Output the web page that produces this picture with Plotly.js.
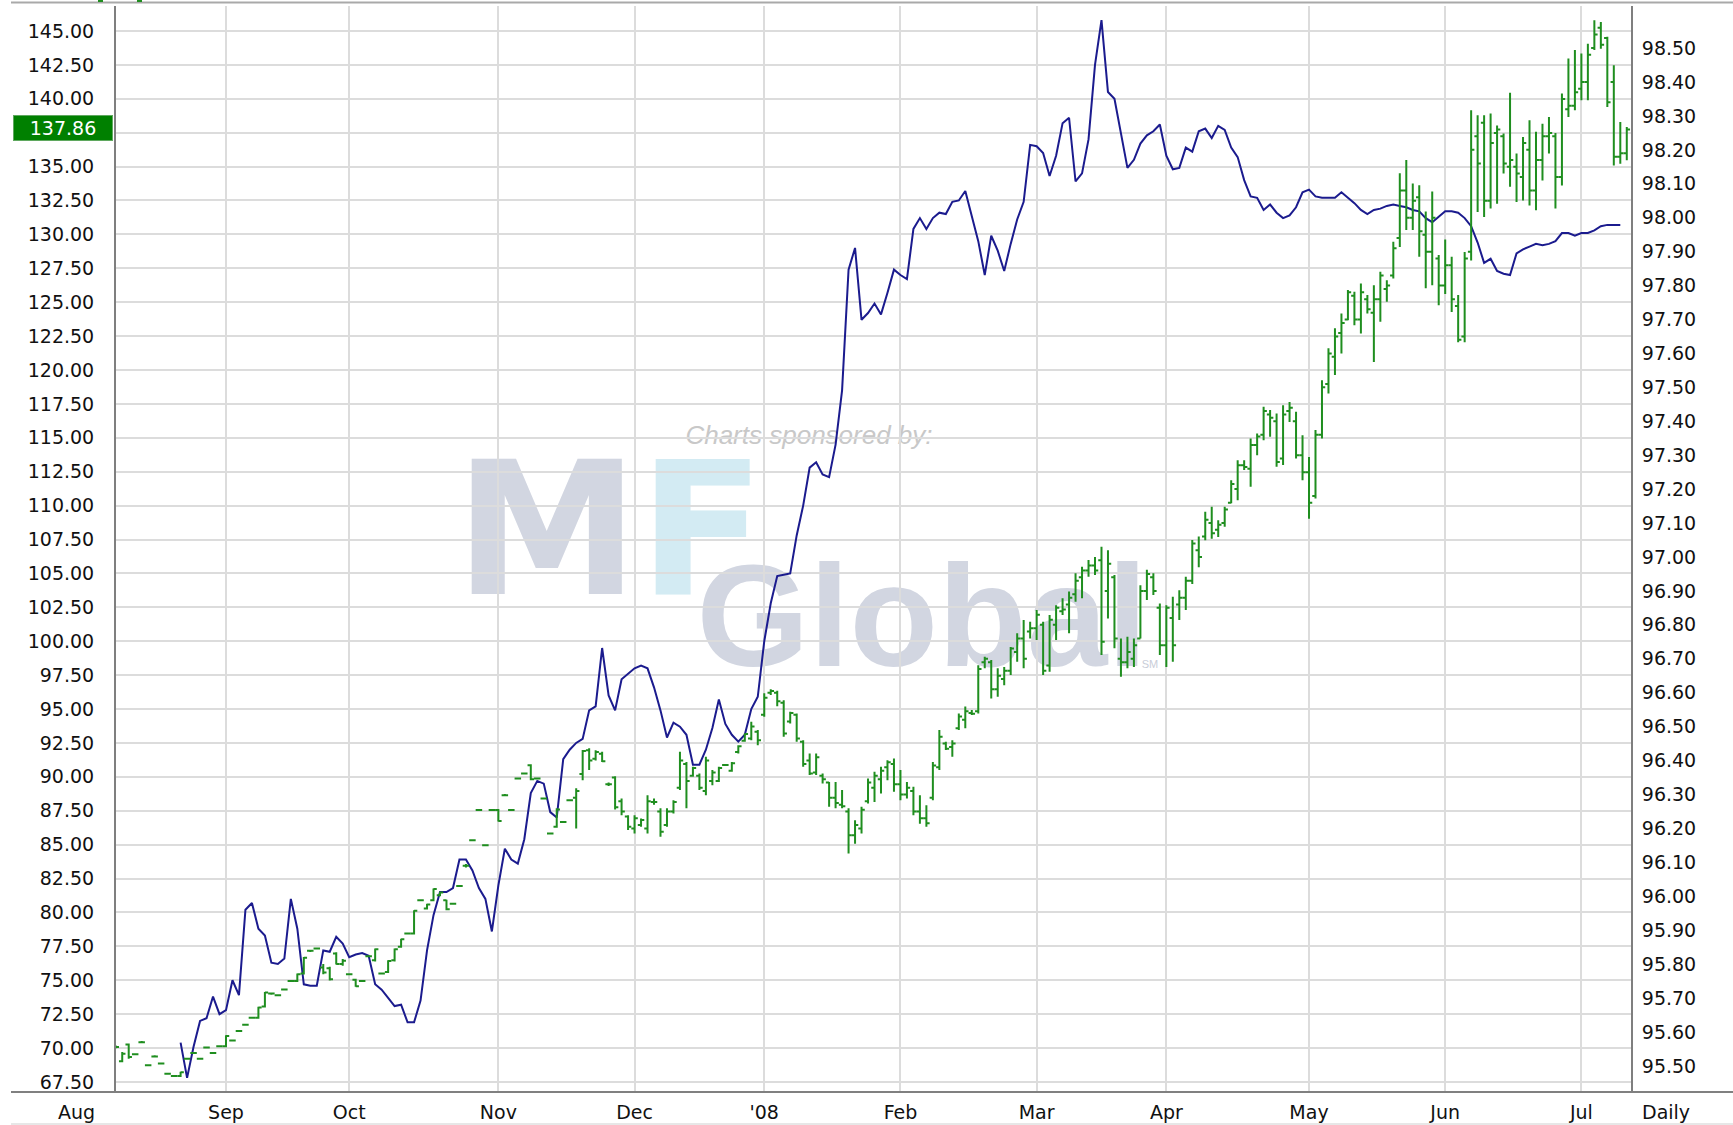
<!DOCTYPE html>
<html><head><meta charset="utf-8">
<script src="https://cdn.plot.ly/plotly-3.0.1.min.js"></script>
<style>html,body{margin:0;padding:0;background:#fff;overflow:hidden}#chart{width:1733px;height:1125px}</style>
</head><body><div id="chart"></div>
<script>
// ---------- calendar (trading days shown on the chart) ----------
const holidays = ['2007-09-03','2007-11-22','2007-12-25','2008-01-01','2008-01-21','2008-03-21','2008-05-26','2008-07-04'];
function tradingDays(start, end) {
  const out = []; const d = new Date(start + 'T00:00:00Z'); const e = new Date(end + 'T00:00:00Z');
  while (d <= e) {
    const dow = d.getUTCDay(); const s = d.toISOString().slice(0, 10);
    if (dow !== 0 && dow !== 6 && holidays.indexOf(s) < 0) out.push(s);
    d.setUTCDate(d.getUTCDate() + 1);
  }
  return out;
}
const days = tradingDays('2007-08-01', '2008-07-15');

// ---------- tick labels ----------
const monthStarts = ['2007-09-04','2007-10-01','2007-11-01','2007-12-03','2008-01-02','2008-02-01','2008-03-03','2008-04-01','2008-05-01','2008-06-02','2008-07-01'];
const monthLabels = ['Sep','Oct','Nov','Dec',"'08",'Feb','Mar','Apr','May','Jun','Jul'];
const leftTicks = [67.5,70,72.5,75,77.5,80,82.5,85,87.5,90,92.5,95,97.5,100,102.5,105,107.5,110,112.5,115,117.5,120,122.5,125,127.5,130,132.5,135,137.5,140,142.5,145];
const leftTickText = ['67.50','70.00','72.50','75.00','77.50','80.00','82.50','85.00','87.50','90.00','92.50','95.00','97.50','100.00','102.50','105.00','107.50','110.00','112.50','115.00','117.50','120.00','122.50','125.00','127.50','130.00','132.50','135.00','','140.00','142.50','145.00'];
const rightTicks = [95.5,95.6,95.7,95.8,95.9,96.0,96.1,96.2,96.3,96.4,96.5,96.6,96.7,96.8,96.9,97.0,97.1,97.2,97.3,97.4,97.5,97.6,97.7,97.8,97.9,98.0,98.1,98.2,98.3,98.4,98.5];
const lastPriceLabel = '137.86';
const lastPriceLevel = 137.86;

// ---------- blue line (daily close, left axis) ----------
const blueStart = '2007-08-23';
const blueClose = [
70.4,67.8,70.1,72.0,72.2,73.8,72.5,
72.8,75.0,73.9,80.2,80.7,78.8,78.3,76.3,76.2,76.6,81.0,78.8,74.7,74.6,74.6,77.2,77.1,78.2,77.7,
76.7,76.9,77.0,76.8,74.7,74.3,73.7,73.1,73.2,71.9,71.9,73.5,77.2,79.8,81.5,81.5,81.8,83.9,83.9,83.1,81.8,81.0,78.6,
82.0,84.7,83.9,83.6,85.4,88.8,89.7,89.5,87.4,87.0,91.3,92.0,92.5,92.8,94.9,95.2,99.5,96.0,94.9,97.2,97.6,
98.0,98.2,98.0,96.6,94.9,92.9,94.0,93.7,93.1,90.9,90.9,92.0,93.6,95.7,93.9,93.1,92.6,93.1,95.0,95.9,
100.0,102.8,104.8,104.9,105.0,107.8,110.0,112.8,113.2,112.3,112.1,114.5,118.5,127.4,129.0,123.7,124.2,124.9,124.1,125.7,127.4,
127.0,126.7,130.4,131.2,130.4,131.2,131.6,131.5,132.4,132.5,133.2,131.4,129.5,127.0,129.9,128.8,127.3,129.3,131.1,132.4,136.6,
136.5,136.0,134.3,135.8,138.2,138.6,133.9,134.5,137.0,142.5,145.8,140.5,140.0,137.3,134.9,135.5,136.7,137.3,137.6,138.1,
135.8,134.8,134.9,136.4,136.1,137.6,137.8,137.1,138.0,137.7,136.4,135.7,134.0,132.8,132.7,131.8,132.2,131.6,131.2,131.4,132.0,133.1,
133.3,132.8,132.7,132.7,132.7,133.1,132.7,132.3,131.8,131.5,131.8,131.9,132.1,132.2,132.1,132.0,131.8,131.7,131.2,130.9,131.3,
131.7,131.7,131.6,131.2,130.6,129.4,127.9,128.2,127.3,127.1,127.0,128.6,128.9,129.1,129.3,129.2,129.3,129.5,130.1,130.1,129.9,
130.1,130.1,130.3,130.6,130.7,130.7,130.7
];

// ---------- green OHLC bars (right axis) ----------
const greenStart = '2007-08-09';
const greenOpen = [
95.556,95.514,95.563,95.534,95.570,95.502,95.528,95.507,95.477,95.470,95.470,95.521,95.538,95.521,95.554,95.538,95.558,
95.558,95.575,95.603,95.621,95.642,95.642,95.675,95.713,95.708,95.725,95.750,95.750,95.772,95.839,95.846,95.790,95.788,95.831,95.800,
95.770,95.754,95.750,95.823,95.811,95.772,95.777,95.811,95.851,95.890,95.890,95.988,95.964,95.988,96.003,95.988,95.978,96.030,96.090,96.165,96.254,96.150,96.254,
96.254,96.298,96.254,96.347,96.362,96.386,96.347,96.288,96.185,96.205,96.219,96.283,96.290,96.360,96.430,96.405,96.420,96.330,96.350,96.280,96.235,
96.200,96.210,96.200,96.278,96.250,96.210,96.250,96.320,96.390,96.355,96.355,96.310,96.340,96.340,96.387,96.370,96.425,96.458,96.465,96.485,
96.535,96.600,96.600,96.570,96.515,96.535,96.455,96.400,96.365,96.355,96.335,96.290,96.270,96.250,96.180,96.200,96.280,96.320,96.345,96.380,96.390,
96.330,96.300,96.310,96.250,96.230,96.290,96.380,96.450,96.440,96.495,96.520,96.540,96.545,96.690,96.690,96.610,96.640,96.665,96.720,96.760,96.780,
96.790,96.800,96.680,96.800,96.840,96.860,96.890,96.940,96.960,96.975,96.990,96.900,96.940,96.700,96.690,96.700,96.760,96.900,96.940,96.850,
96.740,96.820,96.860,96.880,96.930,97.020,97.060,97.100,97.080,97.100,97.160,97.200,97.270,97.260,97.330,97.360,97.420,97.400,97.290,97.430,97.400,97.300,
97.250,97.180,97.360,97.510,97.590,97.660,97.700,97.770,97.700,97.760,97.720,97.760,97.790,97.830,97.940,98.080,98.000,98.060,97.950,97.900,97.880,
97.800,97.860,97.740,97.650,97.900,98.240,98.280,98.050,98.250,98.240,98.150,98.150,98.120,98.200,98.080,98.170,98.240,98.240,98.120,98.320,98.330,
98.380,98.400,98.500,98.560,98.530,98.400,98.180,98.190
];
const greenHigh = [
95.560,95.541,95.566,95.537,95.573,95.505,95.531,95.510,95.480,95.473,95.483,95.524,95.541,95.524,95.557,95.541,95.561,
95.590,95.578,95.606,95.624,95.645,95.674,95.718,95.716,95.711,95.728,95.753,95.772,95.821,95.842,95.849,95.800,95.792,95.835,95.815,
95.773,95.757,95.753,95.826,95.846,95.775,95.811,95.846,95.875,95.893,95.959,95.991,95.978,96.023,96.013,95.990,95.981,96.033,96.095,96.168,96.257,96.153,96.257,
96.257,96.301,96.257,96.350,96.365,96.389,96.350,96.291,96.188,96.259,96.222,96.286,96.318,96.431,96.436,96.430,96.426,96.335,96.354,96.288,96.239,
96.239,96.229,96.298,96.288,96.259,96.259,96.283,96.426,96.396,96.382,96.362,96.411,96.372,96.382,96.390,96.396,96.445,96.480,96.514,96.490,
96.598,96.610,96.606,96.578,96.544,96.539,96.460,96.421,96.421,96.362,96.337,96.337,96.313,96.259,96.224,96.264,96.347,96.367,96.382,96.401,96.406,
96.372,96.337,96.323,96.298,96.268,96.396,96.490,96.455,96.460,96.539,96.559,96.549,96.681,96.706,96.696,96.672,96.676,96.735,96.775,96.814,96.809,
96.844,96.809,96.829,96.858,96.878,96.898,96.952,96.971,96.991,97.000,97.030,97.020,96.947,96.760,96.765,96.760,96.917,96.962,96.952,96.863,
96.858,96.883,96.902,96.942,97.050,97.060,97.133,97.148,97.108,97.148,97.226,97.285,97.285,97.349,97.364,97.443,97.433,97.423,97.447,97.457,97.428,97.359,
97.295,97.374,97.521,97.615,97.674,97.718,97.787,97.782,97.806,97.772,97.801,97.841,97.816,97.929,98.131,98.170,98.101,98.096,98.018,98.077,97.890,
97.936,97.885,97.772,97.899,98.317,98.302,98.302,98.307,98.272,98.248,98.368,98.189,98.238,98.287,98.253,98.277,98.297,98.250,98.366,98.469,98.494,
98.484,98.513,98.582,98.577,98.533,98.449,98.282,98.267
];
const greenLow = [
95.552,95.511,95.521,95.531,95.567,95.499,95.525,95.504,95.474,95.467,95.467,95.518,95.535,95.518,95.551,95.535,95.555,
95.555,95.572,95.600,95.618,95.639,95.639,95.672,95.710,95.705,95.722,95.747,95.747,95.769,95.836,95.843,95.770,95.752,95.799,95.795,
95.767,95.733,95.747,95.820,95.808,95.769,95.774,95.808,95.848,95.887,95.887,95.985,95.961,95.985,96.000,95.959,95.975,96.027,96.085,96.162,96.251,96.147,96.251,
96.220,96.295,96.251,96.344,96.359,96.342,96.344,96.285,96.182,96.202,96.216,96.280,96.200,96.342,96.372,96.400,96.396,96.325,96.256,96.239,96.195,
96.185,96.205,96.185,96.270,96.175,96.205,96.244,96.313,96.259,96.352,96.313,96.298,96.327,96.337,96.384,96.367,96.421,96.455,96.460,96.445,
96.529,96.593,96.560,96.470,96.509,96.455,96.382,96.357,96.357,96.332,96.264,96.259,96.259,96.126,96.155,96.185,96.273,96.278,96.303,96.342,96.308,
96.283,96.288,96.239,96.214,96.205,96.283,96.372,96.431,96.411,96.490,96.495,96.534,96.539,96.672,96.583,96.588,96.622,96.652,96.691,96.672,96.760,
96.755,96.652,96.662,96.755,96.829,96.775,96.868,96.878,96.942,96.947,96.711,96.819,96.731,96.647,96.672,96.676,96.760,96.873,96.888,96.711,
96.676,96.691,96.814,96.844,96.920,96.970,97.049,97.054,97.059,97.089,97.158,97.167,97.256,97.207,97.300,97.344,97.354,97.266,97.271,97.398,97.290,97.226,
97.113,97.172,97.349,97.482,97.536,97.600,97.698,97.683,97.659,97.718,97.575,97.693,97.752,97.821,97.914,97.964,97.964,97.885,97.792,97.801,97.742,
97.775,97.722,97.633,97.633,97.874,98.017,98.002,98.027,98.041,98.130,98.091,98.046,98.051,98.036,98.022,98.110,98.189,98.027,98.095,98.297,98.317,
98.346,98.346,98.494,98.498,98.326,98.154,98.159,98.169
];
const greenClose = [
95.556,95.536,95.526,95.534,95.570,95.502,95.528,95.507,95.477,95.470,95.481,95.521,95.538,95.521,95.554,95.538,95.558,
95.588,95.575,95.603,95.621,95.642,95.672,95.716,95.713,95.708,95.725,95.750,95.770,95.819,95.839,95.846,95.775,95.755,95.800,95.810,
95.770,95.735,95.750,95.823,95.844,95.772,95.809,95.844,95.873,95.890,95.957,95.988,95.976,96.021,96.011,95.962,95.978,96.030,96.090,96.165,96.254,96.150,96.254,
96.222,96.298,96.254,96.347,96.362,96.345,96.347,96.288,96.185,96.256,96.219,96.283,96.310,96.428,96.400,96.425,96.398,96.330,96.262,96.250,96.205,
96.230,96.225,96.280,96.278,96.190,96.250,96.278,96.400,96.340,96.378,96.320,96.400,96.365,96.378,96.387,96.392,96.442,96.478,96.500,96.460,
96.585,96.605,96.575,96.480,96.540,96.465,96.390,96.362,96.410,96.345,96.290,96.275,96.265,96.180,96.210,96.255,96.335,96.355,96.370,96.395,96.330,
96.300,96.320,96.250,96.230,96.215,96.385,96.470,96.435,96.450,96.530,96.545,96.538,96.670,96.700,96.610,96.650,96.665,96.730,96.760,96.700,96.790,
96.830,96.665,96.815,96.850,96.845,96.880,96.930,96.960,96.975,96.960,96.750,96.980,96.760,96.690,96.720,96.740,96.900,96.950,96.900,96.740,
96.850,96.740,96.880,96.930,97.040,97.000,97.110,97.070,97.095,97.140,97.215,97.270,97.265,97.330,97.355,97.430,97.410,97.280,97.420,97.440,97.300,97.250,
97.160,97.360,97.500,97.600,97.650,97.690,97.780,97.700,97.780,97.730,97.760,97.830,97.800,97.910,98.080,98.000,98.050,97.960,97.900,98.000,97.800,
97.860,97.760,97.640,97.880,98.200,98.160,98.050,98.220,98.260,98.160,98.170,98.130,98.220,98.080,98.170,98.240,98.250,98.120,98.350,98.330,98.370,
98.400,98.480,98.540,98.510,98.340,98.180,98.190,98.260
];

// ---------- build traces ----------
const b0 = days.indexOf(blueStart);
const blueX = blueClose.map((_, i) => b0 + i);
const g0 = days.indexOf(greenStart);
const greenX = greenOpen.map((_, i) => g0 + i);
const blueDates = blueX.map(i => days[i]);
const greenDates = greenX.map(i => days[i]);

const GREEN = '#1f8e1f';
const BLUE = '#1b1b8e';
const FONT = 'DejaVu Sans, Verdana, sans-serif';

const traces = [
  { type: 'scatter', mode: 'lines', x: blueX, y: blueClose, text: blueDates, hoverinfo: 'text+y',
    xaxis: 'x', yaxis: 'y', line: { color: BLUE, width: 2 }, showlegend: false },
  { type: 'ohlc', x: greenX, open: greenOpen, high: greenHigh, low: greenLow, close: greenClose,
    text: greenDates, hoverinfo: 'text', xaxis: 'x', yaxis: 'y2', tickwidth: 0.5, showlegend: false,
    increasing: { line: { color: GREEN, width: 2 } }, decreasing: { line: { color: GREEN, width: 2 } } }
];

// ---------- layout helpers (pixel -> paper) ----------
const W = 1733, H = 1125, ML = 116, MR = 102, MT = 6, MB = 33;
const PW = W - ML - MR, PH = H - MT - MB;
const px = x => (x - ML) / PW;
const py = y => (H - MB - y) / PH;

function wm(text, cx, cy, w, h, size, color, family) {
  return { type: 'rect', xref: 'paper', yref: 'paper', layer: 'below',
    x0: px(cx - w / 2), x1: px(cx + w / 2), y0: py(cy + h / 2), y1: py(cy - h / 2),
    line: { width: 0 }, fillcolor: 'rgba(0,0,0,0)',
    label: { text: text, textposition: 'middle center', font: { size: size, color: color, family: family } } };
}

const shapes = [
  wm('<b><span style="color:#d2d6e1">M</span><span style="color:#d3ebf3">F</span></b>', 610, 517, 300, 140, 185, '#d2d6e1', 'DejaVu Sans'),
  wm('<b>Global</b>', 922, 602, 440, 120, 145, '#d2d6e1', 'Liberation Sans'),
  wm('SM', 1150, 663, 24, 12, 11, '#c9cdd8', 'Liberation Sans'),
  wm('<i>Charts sponsored by:</i>', 809, 433, 260, 30, 26, '#c8c8c8', 'Liberation Sans'),
  { type: 'line', xref: 'paper', yref: 'paper', x0: px(11), x1: px(1733), y0: py(2.5), y1: py(2.5), line: { color: '#a9a9a9', width: 2 } },
  { type: 'line', xref: 'paper', yref: 'paper', x0: px(11), x1: px(1733), y0: py(1092), y1: py(1092), line: { color: '#808080', width: 2 } },
  { type: 'line', xref: 'paper', yref: 'paper', x0: px(11), x1: px(1733), y0: py(1124), y1: py(1124), line: { color: '#cfcfcf', width: 1 } },
  { type: 'rect', xref: 'paper', yref: 'paper', x0: px(98), x1: px(103), y0: py(2), y1: py(0), line: { width: 0 }, fillcolor: GREEN },
  { type: 'rect', xref: 'paper', yref: 'paper', x0: px(137), x1: px(142), y0: py(2), y1: py(0), line: { width: 0 }, fillcolor: GREEN }
];

const annotations = [
  { xref: 'paper', yref: 'y', x: px(63), y: lastPriceLevel, text: lastPriceLabel, showarrow: false,
    xanchor: 'center', yanchor: 'middle', width: 98, height: 24, bgcolor: '#008000',
    bordercolor: '#5fa85f', borderwidth: 1, borderpad: 0, font: { family: FONT, size: 19, color: '#ffffff' } },
  { xref: 'paper', yref: 'paper', x: px(76), y: py(1112), text: 'Aug', showarrow: false,
    xanchor: 'center', yanchor: 'middle', font: { family: FONT, size: 19, color: '#111' } },
  { xref: 'paper', yref: 'paper', x: px(1666), y: py(1112), text: 'Daily', showarrow: false,
    xanchor: 'center', yanchor: 'middle', font: { family: FONT, size: 19, color: '#111' } }
];

const layout = {
  width: W, height: H, paper_bgcolor: '#ffffff', plot_bgcolor: 'rgba(0,0,0,0)',
  margin: { l: ML, r: MR, t: MT, b: MB, pad: 0 },
  font: { family: FONT, size: 19, color: '#111' },
  showlegend: false, hovermode: 'closest', dragmode: false,
  xaxis: { range: [6.04, 239.65], tickmode: 'array', tickvals: monthStarts.map(d => days.indexOf(d)), ticktext: monthLabels,
    showgrid: true, gridcolor: '#dcdcdc', gridwidth: 2, zeroline: false, showline: false, ticks: '',
    ticklabelstandoff: 7, tickfont: { family: FONT, size: 19, color: '#111' }, rangeslider: { visible: false }, fixedrange: true },
  yaxis: { range: [66.76, 146.84], tickmode: 'array', tickvals: leftTicks, ticktext: leftTickText,
    showgrid: true, gridcolor: '#dcdcdc', gridwidth: 2, zeroline: false, showline: true, linecolor: '#7f7f7f', linewidth: 2,
    ticks: '', ticklabelstandoff: 16, tickfont: { family: FONT, size: 19, color: '#111' }, fixedrange: true },
  yaxis2: { range: [95.423, 98.624], overlaying: 'y', side: 'right', anchor: 'x', tickmode: 'array', tickvals: rightTicks,
    ticktext: rightTicks.map(v => v.toFixed(2)), showgrid: false, zeroline: false, showline: true, linecolor: '#7f7f7f', linewidth: 2,
    ticks: '', ticklabelstandoff: 5, tickfont: { family: FONT, size: 19, color: '#111' }, fixedrange: true },
  shapes: shapes,
  annotations: annotations
};

Plotly.newPlot('chart', traces, layout, { displayModeBar: false, staticPlot: false, responsive: false });
</script></body></html>
